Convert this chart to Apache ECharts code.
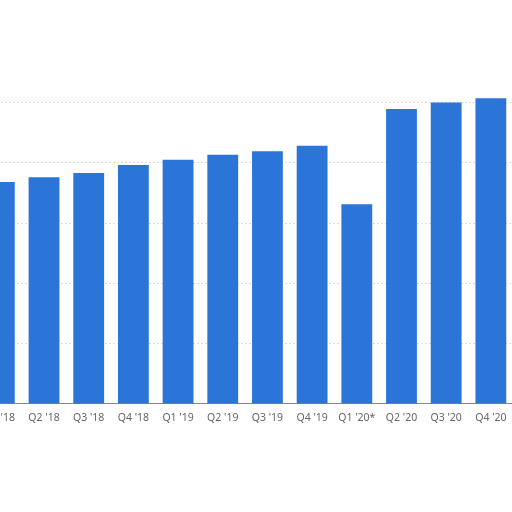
<!DOCTYPE html>
<html>
<head>
<meta charset="utf-8">
<script src="https://cdn.jsdelivr.net/npm/echarts@6/dist/echarts.min.js"></script>
<style>html,body{margin:0;padding:0;background:#fff;overflow:hidden;width:512px;height:512px;}#c{position:absolute;left:-23.4px;top:0;width:560px;height:512px;}</style>
</head>
<body>
<div id="c"></div>
<script>
var categories = ["Q1 '18","Q2 '18","Q3 '18","Q4 '18","Q1 '19","Q2 '19","Q3 '19","Q4 '19","Q1 '20*","Q2 '20","Q3 '20","Q4 '20"];
var values = [368, 376, 383, 396, 405, 413, 419, 428, 331, 489, 500, 507];
var yTicks = [0, 100, 200, 300, 400, 500, 600];

var chart = echarts.init(document.getElementById('c'));
chart.setOption({
  backgroundColor: 'rgba(0,0,0,0)',
  animation: false,
  grid: { left: 0, width: 536.2, top: 42.3, bottom: 108.5, containLabel: false },
  xAxis: {
    type: 'category',
    data: categories,
    axisLine: { show: true, lineStyle: { color: '#888', width: 1 } },
    axisTick: { show: false },
    axisLabel: { color: '#666', fontSize: 10.5, fontFamily: 'Noto Sans', margin: 9, interval: 0 }
  },
  yAxis: {
    type: 'value',
    min: yTicks[0],
    max: yTicks[yTicks.length - 1],
    interval: 100,
    axisLabel: { show: false },
    axisLine: { show: false },
    axisTick: { show: false },
    splitLine: { show: true, lineStyle: { color: ['#dcdcdc','#dcdcdc','#dcdcdc','#dcdcdc','#dcdcdc','#dcdcdc','rgba(0,0,0,0)'], type: [2, 2], width: 1 } }
  },
  series: [{
    type: 'bar',
    data: values,
    barCategoryGap: '31%',
    itemStyle: { color: '#2a75d7' }
  }]
});
</script>
</body>
</html>
